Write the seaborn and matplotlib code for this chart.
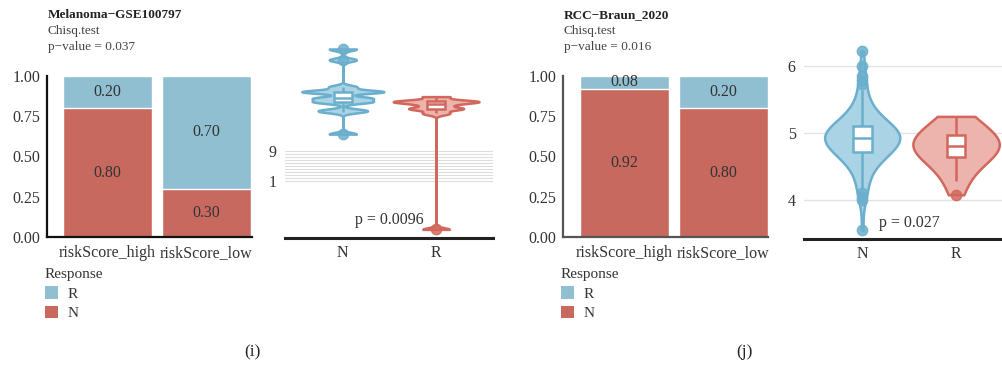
import numpy as np
import pandas as pd
import matplotlib
matplotlib.use("Agg")
import matplotlib.pyplot as plt
import seaborn as sns
from matplotlib.patches import Patch

# ---------------- data ----------------
bar_groups = ["riskScore_high", "riskScore_low"]
mel_N = [0.80, 0.30]
mel_R = [0.20, 0.70]
rcc_N = [0.92, 0.80]
rcc_R = [0.08, 0.20]

mel_title = "Melanoma\u2212GSE100797"
rcc_title = "RCC\u2212Braun_2020"
test_name = "Chisq.test"
mel_chisq = "p\u2212value = 0.037"
rcc_chisq = "p\u2212value = 0.016"

response_levels = ["N", "R"]

# Melanoma risk score (strongly discrete values)
mel_score_N = [13.5, 19.5, 19.9, 22.1, 22.1, 23.1, 23.1, 24.8, 24.8, 24.8,
               26.1, 33.3, 36.2]
mel_score_R = [-11.9, 19.05, 20.3, 20.3, 21.4, 22.2, 22.2, 22.2, 23.5]
mel_grid_ticks = [1.0, 1.8, 2.6, 3.4, 4.2, 5.0, 5.8, 6.6, 7.4, 8.2, 9.0]
mel_grid_labels = ["1", "", "", "", "", "", "", "", "", "", "9"]
mel_wilcox = "p = 0.0096"

# RCC risk score
rcc_score_N = [3.55, 4.00, 4.05, 4.10,
               4.16, 4.22, 4.28, 4.33, 4.38, 4.42, 4.46, 4.49, 4.52, 4.55,
               4.57, 4.59, 4.61, 4.63, 4.65, 4.66, 4.67, 4.68, 4.69, 4.70, 4.71,
               4.72, 4.73, 4.74, 4.75, 4.76, 4.77, 4.78, 4.79, 4.80, 4.81,
               4.82, 4.83, 4.84, 4.85, 4.86, 4.87, 4.88, 4.88, 4.89, 4.89,
               4.90, 4.90, 4.91, 4.91, 4.92,
               4.93, 4.94, 4.94, 4.95, 4.95, 4.96, 4.97, 4.97, 4.98, 4.99,
               5.00, 5.00, 5.01, 5.02, 5.03, 5.04, 5.04, 5.05, 5.06, 5.06,
               5.07, 5.08, 5.08, 5.09, 5.10,
               5.11, 5.12, 5.13, 5.14, 5.16, 5.17, 5.19, 5.21, 5.23, 5.25,
               5.27, 5.29, 5.32, 5.35, 5.38, 5.41, 5.45, 5.50, 5.56, 5.64,
               5.74, 5.80, 5.86, 6.00, 6.23]
rcc_score_R = [4.08, 4.28, 4.40, 4.52, 4.60, 4.65, 4.68, 4.72, 4.76, 4.80,
               4.82, 4.84, 4.88, 4.92, 4.96, 4.98, 5.04, 5.12, 5.19, 5.25]
rcc_ticks = [4, 5, 6]
rcc_wilcox = "p = 0.027"

# ---------------- style ----------------
BAR_BLUE = "#90BFD2"
BAR_RED = "#C8695F"
VFILL = {"N": "#AAD4E6", "R": "#EDB3AD"}
VEDGE = {"N": "#6BAFCC", "R": "#D2675D"}
TXT = "#333333"

sns.set_theme(style="white")
plt.rcParams["font.family"] = ["Liberation Serif", "DejaVu Serif"]
plt.rcParams["text.color"] = TXT
plt.rcParams["axes.labelcolor"] = TXT
plt.rcParams["xtick.color"] = TXT
plt.rcParams["ytick.color"] = TXT

W, H = 1003, 366
fig = plt.figure(figsize=(W / 100, H / 100), dpi=100)


def fbox(x0, x1, ytop, ybot):
    return [x0 / W, 1 - ybot / H, (x1 - x0) / W, (ybot - ytop) / H]


def bar_panel(rect, Nv, Rv, xlim, title, pval, spine_col):
    ax = fig.add_axes(rect)
    df = pd.DataFrame({"group": bar_groups, "N": Nv, "R": Rv})
    df["total"] = df["N"] + df["R"]
    sns.barplot(data=df, x="group", y="total", color=BAR_BLUE, saturation=1,
                width=0.9, ax=ax, order=bar_groups)
    sns.barplot(data=df, x="group", y="N", color=BAR_RED, saturation=1,
                width=0.9, ax=ax, order=bar_groups)
    for i, (n, r) in enumerate(zip(Nv, Rv)):
        ax.text(i, n / 2, f"{n:.2f}", ha="center", va="center", fontsize=11.5, color=TXT)
        ax.text(i, n + r / 2, f"{r:.2f}", ha="center", va="center", fontsize=11.5, color=TXT)
    ax.set_xlim(*xlim)
    ax.set_ylim(0, 1)
    ax.set_yticks([0, 0.25, 0.5, 0.75, 1.0])
    ax.set_yticklabels(["0.00", "0.25", "0.50", "0.75", "1.00"])
    ax.set_xlabel("")
    ax.set_ylabel("")
    for s in ["top", "right"]:
        ax.spines[s].set_visible(False)
    for s in ["left", "bottom"]:
        ax.spines[s].set_color(spine_col)
        ax.spines[s].set_linewidth(1.6)
    ax.tick_params(axis="both", length=3, width=1, colors=spine_col, labelsize=11.5,
                   labelcolor=TXT, pad=2)
    ax.tick_params(axis="x", pad=3)
    x0 = rect[0] + 1 / W
    fig.text(x0, 1 - 15 / H, title, fontsize=9.5, fontweight="bold", color="#222222",
             va="center", ha="left")
    fig.text(x0, 1 - 31 / H, test_name, fontsize=9.5, color="#444444", va="center", ha="left")
    fig.text(x0, 1 - 47 / H, pval, fontsize=9.5, color="#444444", va="center", ha="left")
    handles = [Patch(facecolor=BAR_BLUE, edgecolor="none"),
               Patch(facecolor=BAR_RED, edgecolor="none")]
    fig.legend(handles, ["R", "N"], title="Response", loc="upper left",
               bbox_to_anchor=(x0 - 0.003, 1 - 268 / H), frameon=False,
               fontsize=11, title_fontsize=11, alignment="left",
               handlelength=0.85, handleheight=0.85, handletextpad=0.6,
               labelspacing=0.35, borderpad=0, borderaxespad=0)
    return ax


def violin_panel(rect, dataN, dataR, xlim, ylim, widths, bws, adjs, pval, ptxt_y):
    ax = fig.add_axes(rect)
    df = pd.DataFrame({"Response": ["N"] * len(dataN) + ["R"] * len(dataR),
                       "score": list(dataN) + list(dataR)})
    for g, w, bw, adj in zip(response_levels, widths, bws, adjs):
        sub = df[df["Response"] == g]
        sns.violinplot(data=sub, x="Response", y="score", order=response_levels,
                       width=w, inner=None, cut=0, bw_method=bw, bw_adjust=adj,
                       gridsize=1500, density_norm="width", color=VFILL[g],
                       linecolor=VEDGE[g], linewidth=1.8, saturation=1, ax=ax)
        sns.boxplot(data=sub, x="Response", y="score", order=response_levels,
                    width=0.2, color="white", linecolor=VEDGE[g], linewidth=1.8,
                    saturation=1, showcaps=False, ax=ax,
                    flierprops=dict(marker="o", markersize=7.5,
                                    markerfacecolor=VEDGE[g], markeredgecolor=VEDGE[g],
                                    alpha=0.85))
    ax.set_xlim(*xlim)
    ax.set_ylim(*ylim)
    ax.set_xlabel("")
    ax.set_ylabel("")
    for s in ["top", "right", "left"]:
        ax.spines[s].set_visible(False)
    ax.spines["bottom"].set_color("#222222")
    ax.spines["bottom"].set_linewidth(2.2)
    ax.tick_params(axis="both", length=0, labelsize=11.5, labelcolor=TXT)
    ax.tick_params(axis="x", pad=5)
    ax.tick_params(axis="y", pad=6)
    ax.text(0.5, ptxt_y, pval, ha="center", va="center", fontsize=11.5, color=TXT)
    return ax


# ---- Melanoma ----
bar_panel(fbox(47, 252, 76, 237), mel_N, mel_R, (-0.61, 1.46), mel_title, mel_chisq, "#111111")
axv1 = violin_panel(fbox(285, 493, 40, 238), mel_score_N, mel_score_R,
                    (-0.62, 1.61), (-14.2, 38.6), (0.88, 0.92), (0.08, 0.04), (1, 1),
                    mel_wilcox, -9.4)
axv1.set_yticks(mel_grid_ticks)
axv1.set_yticklabels(mel_grid_labels)
axv1.yaxis.grid(True, color="#DDDDDD", linewidth=0.8)
axv1.set_axisbelow(True)

# ---- RCC ----
bar_panel(fbox(563, 768, 76, 237), rcc_N, rcc_R, (-0.62, 1.45), rcc_title, rcc_chisq, "#555555")
axv2 = violin_panel(fbox(804, 1003, 40, 239), rcc_score_N, rcc_score_R,
                    (-0.62, 1.5), (3.42, 6.39), (0.8, 0.92), ("scott", "scott"), (1.1, 1.3),
                    rcc_wilcox, 3.66)
axv2.set_yticks(rcc_ticks)
axv2.yaxis.grid(True, color="#E3E3E3", linewidth=1.0)
axv2.set_axisbelow(True)

# panel labels
fig.text(252 / W, 1 - 352 / H, "(i)", ha="center", va="center", fontsize=12.5, color="#222222")
fig.text(744 / W, 1 - 352 / H, "(j)", ha="center", va="center", fontsize=12.5, color="#222222")

fig.savefig("out.png", dpi=100)
